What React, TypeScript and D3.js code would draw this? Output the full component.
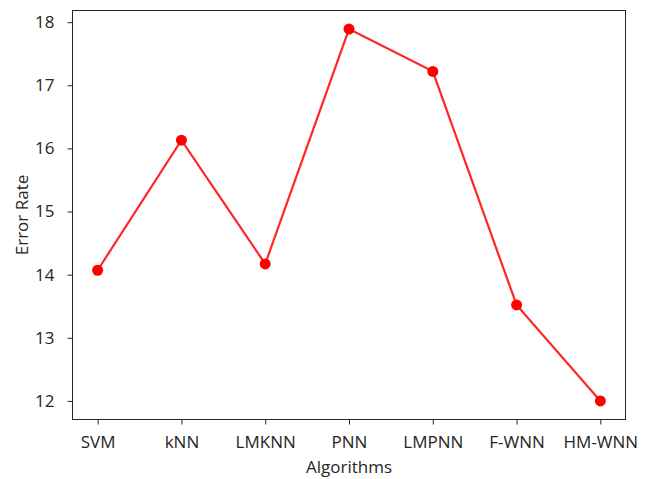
import React, { useRef, useEffect } from "react";
import * as d3 from "d3";

const algorithms = ["SVM", "kNN", "LMKNN", "PNN", "LMPNN", "F-WNN", "HM-WNN"];
const errorRates = [14.07, 16.13, 14.17, 17.89, 17.22, 13.52, 12.0];
const yTicks = [12, 13, 14, 15, 16, 17, 18];

function App() {
  const svgRef = useRef<SVGSVGElement>(null);

  useEffect(() => {
    const width = 646,
      height = 479;
    const margin = { top: 10.5, right: 20.5, bottom: 59.5, left: 72.5 };
    const innerW = width - margin.left - margin.right;
    const innerH = height - margin.top - margin.bottom;
    const font = "'Open Sans', 'DejaVu Sans', sans-serif";
    const fs = 17;

    const svg = d3.select(svgRef.current);
    svg.selectAll("*").remove();
    const g = svg
      .append("g")
      .attr("transform", "translate(" + margin.left + "," + margin.top + ")");

    const n = algorithms.length - 1;
    const x = d3
      .scaleLinear()
      .domain([-0.05 * n, n * 1.05])
      .range([0, innerW]);
    const yMin = d3.min(errorRates)!,
      yMax = d3.max(errorRates)!;
    const pad = (yMax - yMin) * 0.05;
    const y = d3
      .scaleLinear()
      .domain([yMin - pad, yMax + pad])
      .range([innerH, 0]);

    // x axis
    const xAxis = g
      .append("g")
      .attr("transform", "translate(0," + innerH + ")")
      .call(
        d3
          .axisBottom(x)
          .tickValues(d3.range(algorithms.length))
          .tickFormat((d) => algorithms[d as number])
          .tickSize(5)
          .tickPadding(11)
      );
    xAxis.select(".domain").remove();
    xAxis
      .selectAll("text")
      .attr("font-family", font)
      .attr("font-size", fs)
      .attr("fill", "#262626");
    xAxis.selectAll("line").attr("stroke", "#262626");

    // y axis
    const yAxis = g.append("g").call(
      d3
        .axisLeft(y)
        .tickValues(yTicks)
        .tickFormat(d3.format("d"))
        .tickSize(5)
        .tickPadding(13)
    );
    yAxis.select(".domain").remove();
    yAxis
      .selectAll("text")
      .attr("font-family", font)
      .attr("font-size", fs)
      .attr("fill", "#262626");
    yAxis.selectAll("line").attr("stroke", "#262626");

    // frame
    g.append("rect")
      .attr("width", innerW)
      .attr("height", innerH)
      .attr("fill", "none")
      .attr("stroke", "#262626")
      .attr("stroke-width", 1);

    // line
    const line = d3
      .line<number>()
      .x((_, i) => x(i))
      .y((d) => y(d));
    g.append("path")
      .datum(errorRates)
      .attr("d", line)
      .attr("fill", "none")
      .attr("stroke", "#ff0000")
      .attr("stroke-opacity", 0.85)
      .attr("stroke-width", 2.2);

    g.selectAll("circle.pt")
      .data(errorRates)
      .enter()
      .append("circle")
      .attr("class", "pt")
      .attr("cx", (_, i) => x(i))
      .attr("cy", (d) => y(d))
      .attr("r", 5.5)
      .attr("fill", "#ff0000");

    // labels
    svg
      .append("text")
      .attr("x", margin.left + innerW / 2)
      .attr("y", 473)
      .attr("text-anchor", "middle")
      .attr("font-family", font)
      .attr("font-size", fs)
      .attr("fill", "#262626")
      .text("Algorithms");

    svg
      .append("text")
      .attr("transform", "translate(27.5," + (margin.top + innerH / 2) + ") rotate(-90)")
      .attr("text-anchor", "middle")
      .attr("font-family", font)
      .attr("font-size", fs)
      .attr("fill", "#262626")
      .text("Error Rate");
  }, []);

  return (
    <div style={{ position: "absolute", left: 0, top: 0 }}>
      <svg ref={svgRef} width={646} height={479} style={{ display: "block", background: "#fff" }} />
    </div>
  );
}

export default App;
